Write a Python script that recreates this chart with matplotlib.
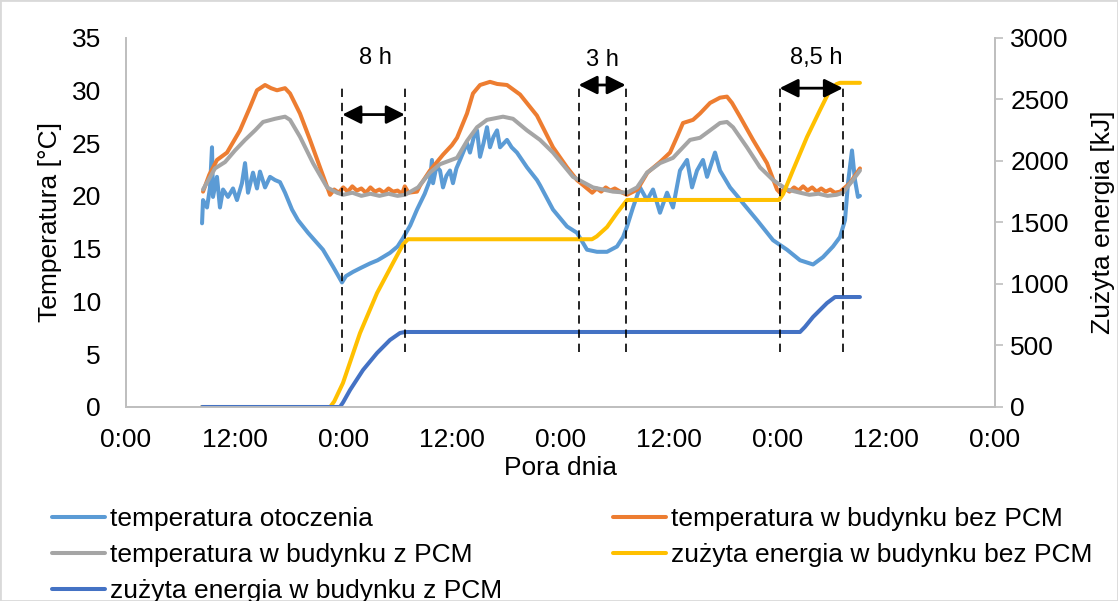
import matplotlib
matplotlib.use('Agg')
import matplotlib.pyplot as plt
from matplotlib.patches import Rectangle

plt.rcParams['font.family'] = ['Liberation Sans', 'DejaVu Sans']

# ---------------- data (time in hours from first midnight) ----------------
amb_t = [8.40, 8.51, 8.95, 9.28, 9.50, 9.61, 10.05, 10.38, 10.72, 11.27, 11.82, 12.26, 12.81, 13.15,
         13.48, 14.03, 14.47, 14.80, 15.36, 15.91, 16.46, 17.01, 17.57, 18.34, 19.00, 20.11, 21.76,
         22.87, 23.86, 24.30, 25.08, 26.00, 26.96, 27.80, 28.39, 29.16, 30.00, 30.60, 31.40, 32.15,
         33.00, 33.58, 33.80, 33.92, 34.30, 34.69, 35.02, 35.40, 35.79, 36.12, 36.50, 36.90, 37.67,
         38.00, 38.40, 38.78, 39.11, 39.50, 39.88, 40.21, 40.60, 40.99, 41.32, 42.09, 42.60, 43.19,
         44.30, 45.40, 45.74, 47.17, 48.72, 49.82, 50.93, 52.03, 53.14, 54.24, 54.91, 55.35, 56.01,
         56.78, 57.56, 58.22, 58.99, 59.77, 60.43, 61.20, 61.98, 62.53, 63.08, 63.74, 64.19, 65.07,
         65.62, 66.73, 67.61, 68.16, 69.71, 71.48, 73.02, 74.46, 75.90, 77.00, 78.10, 78.88, 79.43,
         79.76, 80.20, 80.53, 80.86, 81.08]
amb_T = [17.4, 19.6, 18.9, 20.8, 24.6, 19.9, 21.8, 18.9, 20.6, 19.9, 20.7, 19.6, 21.2, 23.1,
         20.3, 22.2, 20.7, 22.3, 20.8, 21.8, 21.5, 21.3, 20.3, 18.7, 17.7, 16.5, 14.9,
         13.3, 11.8, 12.4, 12.8, 13.2, 13.6, 13.9, 14.2, 14.6, 15.2, 16.0, 17.2, 18.7,
         20.2, 21.5, 23.4, 21.2, 22.8, 22.4, 20.8, 21.9, 22.4, 21.2, 22.6, 23.4, 25.0,
         24.1, 25.5, 26.2, 23.7, 25.0, 26.5, 24.6, 25.6, 26.2, 24.6, 25.3, 24.6, 24.1,
         22.7, 21.5, 21.0, 18.7, 17.1, 16.5, 14.9, 14.7, 14.7, 15.2, 16.1, 17.1, 18.9,
         20.8, 19.6, 20.6, 18.4, 20.3, 18.9, 22.4, 23.4, 20.8, 22.4, 23.4, 21.8, 24.1,
         22.4, 20.8, 19.9, 19.3, 17.7, 15.8, 14.9, 13.9, 13.5, 14.2, 15.2, 16.1, 17.7,
         21.2, 24.3, 21.5, 19.9, 20.0]

bez_t = [8.51, 9.20, 10.05, 11.16, 12.59, 13.70, 14.47, 15.36, 16.02, 16.68, 17.57, 18.12, 19.22,
         20.33, 21.43, 22.54, 23.0, 23.5, 24.0, 24.5, 25.0, 25.5, 26.0, 26.5, 27.0, 27.5, 28.0,
         28.5, 29.0, 29.5, 30.0, 30.5, 30.8, 31.2, 32.15, 32.5, 33.58, 35.02, 36.0, 36.57, 37.67,
         38.33, 39.11, 40.21, 41.0, 42.09, 43.53, 45.40, 47.17, 48.72, 49.82, 51.5, 52.0, 52.5,
         53.0, 53.5, 54.0, 54.6, 55.35, 56.5, 57.6, 58.99, 60.10, 60.88, 61.53, 62.64, 63.41,
         64.52, 65.62, 66.39, 66.95, 67.83, 69.27, 70.81, 71.92, 72.25, 72.8, 73.3, 73.8, 74.3,
         74.8, 75.3, 75.8, 76.3, 76.8, 77.3, 77.8, 78.3, 78.9, 79.98, 81.08]
bez_T = [20.4, 22.0, 23.4, 24.1, 26.2, 28.4, 30.0, 30.5, 30.2, 30.0, 30.2, 29.7, 27.8,
         25.3, 22.7, 20.1, 20.6, 20.3, 20.8, 20.4, 20.9, 20.5, 20.7, 20.3, 20.8, 20.4, 20.6,
         20.3, 20.7, 20.4, 20.5, 20.2, 20.9, 20.3, 20.4, 21.0, 22.4, 23.9, 24.8, 25.5, 27.8,
         29.7, 30.5, 30.8, 30.6, 30.5, 29.6, 27.6, 24.6, 22.7, 21.5, 20.3, 20.7, 20.4,
         20.8, 20.5, 20.7, 20.4, 20.1, 20.6, 22.2, 23.2, 24.1, 25.6, 26.9, 27.2, 27.8,
         28.8, 29.3, 29.4, 28.8, 27.5, 25.3, 23.1, 20.6, 20.3, 20.7, 20.4, 20.8, 20.5,
         20.9, 20.5, 20.8, 20.4, 20.7, 20.4, 20.6, 20.3, 20.4, 21.2, 22.6]

z_t = [8.51, 9.83, 10.94, 12.04, 13.15, 14.25, 15.14, 16.46, 17.57, 18.12, 19.22, 20.66, 22.21,
       23.31, 24.0, 25.0, 26.0, 27.0, 28.0, 29.0, 30.0, 30.82, 32.26, 33.58, 34.69, 36.57, 37.67,
       38.78, 39.88, 41.65, 42.75, 44.30, 45.74, 47.17, 49.38, 51.59, 53.80, 55.35, 56.46, 57.56,
       58.99, 60.43, 61.20, 62.31, 63.41, 64.52, 65.62, 66.39, 67.06, 68.60, 70.04, 71.48, 73.02,
       74.46, 75.5, 76.5, 77.5, 78.5, 79.21, 80.31, 81.08]
z_T = [20.6, 22.6, 23.2, 24.3, 25.3, 26.2, 27.0, 27.3, 27.5, 27.2, 25.6, 23.1, 20.8,
       20.3, 20.1, 20.3, 20.0, 20.2, 20.0, 20.2, 20.0, 20.1, 20.8, 22.2, 23.0, 23.6, 25.2,
       26.5, 27.2, 27.5, 27.3, 26.2, 25.3, 24.1, 21.8, 20.8, 20.4, 20.3, 20.8, 22.2,
       23.1, 23.6, 24.3, 25.3, 25.5, 26.2, 26.9, 27.0, 26.5, 24.6, 22.7, 21.5, 20.6,
       20.3, 20.1, 20.2, 20.0, 20.1, 20.3, 21.5, 22.4]

ebez_t = [8.40, 22.55, 23.0, 23.97, 25.85, 27.73, 29.50, 30.60, 31.15, 51.48, 52.0, 53.14, 54.24,
          55.35, 72.14, 72.6, 73.69, 75.23, 76.67, 77.77, 78.5, 78.88, 81.08]
ebez_E = [0, 0, 45, 195, 600, 925, 1170, 1320, 1362, 1362, 1385, 1461, 1575,
          1681, 1681, 1730, 1924, 2192, 2411, 2574, 2622, 2632, 2632]

ez_t = [8.40, 23.64, 24.0, 24.75, 26.18, 27.73, 29.16, 30.27, 30.82, 74.46, 75.0, 75.90, 77.44,
        78.33, 81.08]
ez_E = [0, 0, 40, 138, 300, 438, 544, 601, 609, 609, 650, 731, 844, 893, 893]

x_ticks = [0, 12, 24, 36, 48, 60, 72, 84, 96]
x_labels = ['0:00', '12:00', '0:00', '12:00', '0:00', '12:00', '0:00', '12:00', '0:00']
y_ticks = [0, 5, 10, 15, 20, 25, 30, 35]
e_ticks = [0, 500, 1000, 1500, 2000, 2500, 3000]

# heating periods marked with dashed lines and arrows
period_start = [23.9, 50.0, 72.2]
period_end = [30.8, 55.2, 79.2]
period_label = ['8 h', '3 h', '8,5 h']
arrow_level = [27.7, 30.5, 30.2]
label_x = [27.6, 52.6, 76.2]
label_level = [33.1, 32.9, 33.1]
dash_low, dash_high = 5.2, 30.7

names = ['temperatura otoczenia', 'temperatura w budynku bez PCM', 'temperatura w budynku z PCM',
         'zużyta energia w budynku bez PCM', 'zużyta energia w budynku z PCM']
colors = ['#5B9BD5', '#ED7D31', '#A5A5A5', '#FFC000', '#4472C4']

# ---------------- figure ----------------
W, H = 1118, 601
fig = plt.figure(figsize=(W / 100, H / 100), dpi=100)
ax = fig.add_axes([126 / W, 1 - 407 / H, 869 / W, 369.5 / H])
ax2 = ax.twinx()

lw = 2.9
kw = dict(lw=lw, solid_joinstyle='round', solid_capstyle='round')
l_amb, = ax.plot(amb_t, amb_T, color=colors[0], label=names[0], **kw)
l_bez, = ax.plot(bez_t, bez_T, color=colors[1], label=names[1], **kw)
l_z, = ax.plot(z_t, z_T, color=colors[2], label=names[2], **kw)
l_ebez, = ax2.plot(ebez_t, ebez_E, color=colors[3], label=names[3], **kw)
l_ez, = ax2.plot(ez_t, ez_E, color=colors[4], label=names[4], **kw)

ax.set_xlim(0, 96)
ax.set_ylim(0, 35)
ax2.set_ylim(0, 3000)
ax.set_xticks(x_ticks)
ax.set_xticklabels(x_labels)
ax.set_yticks(y_ticks)
ax2.set_yticks(e_ticks)

grey = '#BFBFBF'
for a in (ax, ax2):
    a.spines['top'].set_visible(False)
    for s in ('left', 'right', 'bottom'):
        a.spines[s].set_color(grey)
        a.spines[s].set_linewidth(1.3)
ax.tick_params(axis='x', length=0, pad=15, labelsize=19, colors='black')
ax.tick_params(axis='y', length=0, pad=18, labelsize=19)
ax2.tick_params(axis='y', length=6, width=1.2, color=grey, pad=5, labelsize=19)

ax.set_xlabel('Pora dnia', fontsize=19, va='center')
ax.xaxis.set_label_coords(0.5, (407 - 468) / 369.5)
ax.set_ylabel('Temperatura [°C]', fontsize=19, va='center')
ax.yaxis.set_label_coords((50 - 126) / 869, 0.5)
ax2.set_ylabel('Zużyta energia [kJ]', fontsize=19, va='center', rotation=90)
ax2.yaxis.set_label_coords((1103 - 126) / 869, 0.5)

# dashed lines and arrows (on top of all series)
for s, e, lab, ya, lx, ly in zip(period_start, period_end, period_label, arrow_level, label_x, label_level):
    for xv in (s, e):
        ax2.plot([xv, xv], [dash_low, dash_high], transform=ax.transData, color='black',
                 lw=1.2, ls=(0, (5, 3.5)))
    ax2.annotate('', xy=(s, ya), xytext=(e, ya), xycoords=ax.transData, textcoords=ax.transData,
                 arrowprops=dict(arrowstyle='<|-|>,head_length=0.8,head_width=0.4',
                                 mutation_scale=14, lw=2.0, color='black', shrinkA=0, shrinkB=0))
    ax2.text(lx, ly, lab, transform=ax.transData, ha='center', va='center', fontsize=17)
ax2.set_ylim(0, 3000)

handles = [l_amb, l_z, l_ez, l_bez, l_ebez]
fig.legend(handles, [h.get_label() for h in handles], loc='upper left',
           bbox_to_anchor=(52 / W, 1 - 507 / H), ncol=2, frameon=False, fontsize=19,
           handlelength=2.0, handletextpad=0.2, columnspacing=4.2, labelspacing=0.45,
           borderpad=0, borderaxespad=0)

fig.add_artist(Rectangle((0, 0), 1, 1, transform=fig.transFigure, fill=False,
                         edgecolor='#D9D9D9', lw=2))

fig.savefig('out.png', dpi=100)
